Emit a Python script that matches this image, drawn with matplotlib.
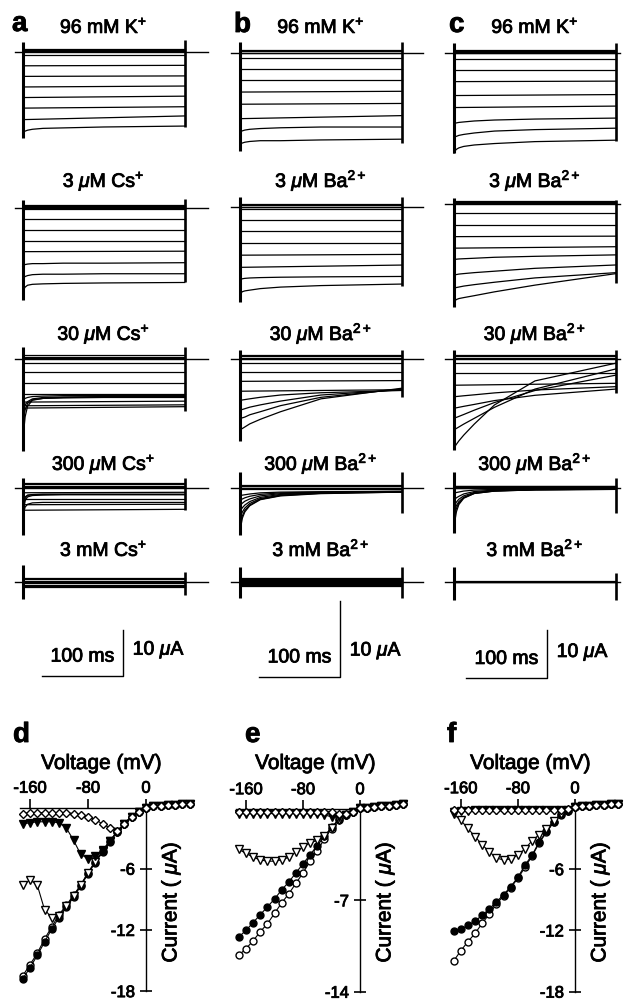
import matplotlib
matplotlib.use("Agg")
import matplotlib.pyplot as plt
import matplotlib.patheffects as pe

plt.rcParams['font.family'] = ['Liberation Sans', 'DejaVu Sans']
plt.rcParams['mathtext.fontset'] = 'custom'
plt.rcParams['mathtext.rm'] = 'Liberation Sans'
plt.rcParams['mathtext.it'] = 'Liberation Sans:italic'
plt.rcParams['mathtext.bf'] = 'Liberation Sans:bold'
plt.rcParams['axes.unicode_minus'] = False

W, H = 630, 1002
HEAVY = [pe.withStroke(linewidth=0.6, foreground='k')]

# ---------------- current traces (uA) ----------------
# 1 value = flat, 2 values = start/end of pulse, 9 values = sampled at T_FINE (ms)
PULSE_MS = 200
T_FINE = [0, 1, 3, 6, 12, 25, 50, 100, 200]

a1 = [[0.6], [0.35], [0.15], [-0.7], [-3.0, -2.9], [-5.3, -5.2], [-7.6, -7.4], [-9.9, -9.6],
      [-12.2, -11.9], [-14.7, -13.9],
      [-17.6, -17.4, -17.2, -17.0, -16.8, -16.6, -16.5, -16.3, -16.1]]
a2 = [[0.5], [0.3], [0.1], [-0.4], [-2.5], [-4.8], [-7.2], [-9.6, -9.5],
      [-12.8, -12.6, -12.4, -12.3, -12.2, -12.2, -12.1, -12.1, -12.0],
      [-15.6, -15.3, -15.0, -14.8, -14.6, -14.5, -14.5, -14.4, -14.4],
      [-18.6, -17.9, -17.3, -16.9, -16.7, -16.6, -16.5, -16.4, -16.3]]
a3 = [[0.9], [0.6], [0.3], [-0.7], [-2.8], [-5.2], [-7.5], [-9.3, -9.1], [-10.1, -9.9], [-10.6, -10.3],
      [-9.0, -8.8, -8.5, -8.3, -8.1, -8.0, -7.9, -7.9, -7.9],
      [-11.5, -10.8, -9.9, -9.2, -8.6, -8.3, -8.2, -8.1, -8.1],
      [-14.5, -13.0, -11.0, -9.6, -8.8, -8.5, -8.4, -8.3, -8.3],
      [-19.5, -16.0, -12.5, -10.2, -8.9, -8.5, -8.3, -8.2, -8.2]]
a4 = [[1.0], [0.7], [0.4], [0.1], [-1.1, -1.0], [-2.4], [-3.7, -3.6], [-4.9, -4.7],
      [-7.0, -5.5, -4.2, -3.6, -3.3, -3.2, -3.2, -3.2, -3.2],
      [-8.5, -5.0, -2.8, -2.0, -1.7, -1.6, -1.5, -1.5, -1.5],
      [-9.5, -4.5, -2.3, -1.7, -1.5, -1.4, -1.4, -1.4, -1.4],
      [-10.0, -4.0, -2.0, -1.6, -1.5, -1.5, -1.5, -1.5, -1.5]]
a5 = [[0.8], [0.6], [0.3], [-0.1], [-0.3], [-0.6], [-0.8], [-1.0]]

b1 = [[0.5], [0.3], [0.1], [-0.65], [-2.0], [-3.5], [-5.1, -5.0], [-6.7, -6.6], [-8.6, -8.2],
      [-10.4, -10.3, -10.2, -10.1, -10.0, -9.9, -9.8, -9.7, -9.7],
      [-12.0, -11.9, -11.8, -11.7, -11.6, -11.5, -11.5, -11.4, -11.3]]
b2 = [[0.45], [0.3], [0.1], [-0.25], [-1.7], [-3.1], [-4.7], [-6.3, -6.2], [-7.9, -7.6],
      [-9.7, -9.5, -9.4, -9.35, -9.3, -9.25, -9.2, -9.15, -9.1],
      [-11.6, -11.3, -11.1, -11.0, -10.9, -10.7, -10.5, -10.3, -10.1]]
b3 = [[0.6], [0.4], [0.2], [-0.45], [-1.7], [-2.9, -2.8], [-4.2, -4.0],
      [-5.4, -5.4, -5.35, -5.3, -5.2, -5.0, -4.7, -4.4, -4.1],
      [-6.7, -6.65, -6.6, -6.5, -6.3, -6.0, -5.5, -4.7, -4.0],
      [-7.8, -7.75, -7.7, -7.6, -7.3, -6.9, -6.1, -5.0, -3.9],
      [-9.3, -9.2, -9.1, -8.9, -8.5, -7.9, -6.9, -5.2, -3.8]]
b4 = [[0.4], [0.25], [0.1], [-0.1],
      [-1.0, -0.95, -0.9, -0.85, -0.75, -0.6, -0.5, -0.45, -0.4],
      [-1.6, -1.5, -1.4, -1.25, -1.05, -0.8, -0.6, -0.5, -0.4],
      [-2.3, -2.15, -1.95, -1.7, -1.4, -1.0, -0.7, -0.55, -0.45],
      [-3.1, -2.85, -2.55, -2.2, -1.75, -1.2, -0.8, -0.6, -0.45],
      [-4.0, -3.6, -3.1, -2.6, -2.0, -1.35, -0.9, -0.6, -0.45],
      [-5.0, -4.4, -3.6, -2.9, -2.2, -1.45, -0.95, -0.65, -0.5],
      [-6.0, -5.0, -3.9, -3.1, -2.3, -1.5, -1.0, -0.7, -0.5]]
b5 = [[0.5], [0.35], [0.2], [0.1], [0.0], [-0.1], [-0.2], [-0.3], [-0.4], [-0.5]]

c1 = [[0.7], [0.5], [0.3], [0.1], [-1.25], [-3.5], [-5.9, -5.8], [-8.8, -8.6], [-11.3, -11.0],
      [-14.7, -14.6, -14.5, -14.4, -14.3, -14.1, -13.9, -13.7, -13.5],
      [-17.5, -17.4, -17.3, -17.1, -16.9, -16.6, -16.2, -15.9, -15.6],
      [-20.8, -20.4, -20.0, -19.7, -19.4, -19.1, -18.8, -18.4, -18.1]]
c2 = [[0.6], [0.4], [0.2], [-1.9], [-4.4], [-6.8, -6.7], [-9.2, -8.9],
      [-11.6, -11.55, -11.5, -11.45, -11.4, -11.3, -11.1, -10.9, -10.6],
      [-14.8, -14.75, -14.7, -14.6, -14.5, -14.3, -14.0, -13.4, -12.7],
      [-17.6, -17.5, -17.4, -17.3, -17.1, -16.8, -16.3, -15.4, -14.3],
      [-20.6, -20.2, -19.9, -19.7, -19.5, -19.1, -18.3, -16.9, -14.5]]
c3 = [[0.9], [0.6], [0.3], [-0.7], [-2.8], [-5.4, -5.0],
      [-7.8, -7.78, -7.75, -7.7, -7.6, -7.4, -7.0, -6.4, -5.7],
      [-10.2, -10.15, -10.1, -10.0, -9.8, -9.4, -8.6, -7.5, -6.2],
      [-12.3, -12.2, -12.1, -11.9, -11.5, -10.6, -9.0, -6.5, -3.3],
      [-14.7, -14.6, -14.4, -14.1, -13.5, -12.3, -10.0, -6.2, -2.0],
      [-18.5, -18.2, -17.7, -17.0, -15.8, -13.5, -9.5, -4.5, -0.8]]
c4 = [[0.4], [0.25], [0.1], [-0.1],
      [-1.2, -1.1, -1.0, -0.9, -0.7, -0.5, -0.35, -0.3, -0.25],
      [-2.6, -2.4, -2.1, -1.8, -1.3, -0.8, -0.5, -0.35, -0.3],
      [-4.0, -3.6, -3.0, -2.4, -1.7, -1.0, -0.6, -0.4, -0.3],
      [-5.3, -4.6, -3.7, -2.9, -2.0, -1.1, -0.65, -0.4, -0.3],
      [-6.7, -5.6, -4.3, -3.2, -2.1, -1.2, -0.7, -0.45, -0.35],
      [-8.8, -7.0, -5.0, -3.5, -2.2, -1.2, -0.7, -0.45, -0.35]]
c5 = [[0.2], [0.0], [-0.15]]

# capacitive transients at pulse on / off: (top, bottom) in uA
caps_a = [((2.2, -18.8), (2.7, -16.3)), ((1.7, -20.1), (1.8, -16.3)), ((2.7, -19.9), (2.7, -11.2)),
          ((2.0, -10.3), (2.1, -4.9)), ((3.6, -3.7), (2.2, -2.8))]
caps_b = [((1.5, -12.8), (1.5, -11.8)), ((1.3, -12.4), (1.3, -10.4)), ((1.2, -10.8), (1.2, -4.9)),
          ((2.2, -6.1), (2.2, -3.3)), ((2.0, -2.2), (2.0, -2.2))]
caps_c = [((2.1, -20.8), (2.1, -18.3)), ((1.2, -21.4), (0.8, -16.5)), ((1.9, -18.8), (1.9, -7.1)),
          ((3.3, -9.5), (2.0, -5.3)), ((3.1, -3.8), (1.75, -3.8))]

titles_a = ['96 mM K$^{+}$', r'3 $\mu$M Cs$^{+}$', r'30 $\mu$M Cs$^{+}$', r'300 $\mu$M Cs$^{+}$', '3 mM Cs$^{+}$']
titles_b = ['96 mM K$^{+}$', r'3 $\mu$M Ba$^{2+}$', r'30 $\mu$M Ba$^{2+}$', r'300 $\mu$M Ba$^{2+}$', '3 mM Ba$^{2+}$']
titles_c = titles_b

SCALE_MS = 100
SCALE_UA = 10

# ---------------- I-V data ----------------
volts = [-170, -160, -150, -140, -130, -120, -110, -100, -90, -80, -70, -60,
         -50, -40, -30, -20, -10, 0, 10, 20, 30, 40, 50, 60]

d_ctrl = [-16.5, -15.4, -14.3, -12.9, -11.7, -10.5, -9.6, -8.6, -7.6, -6.4, -5.3, -4.3,
          -3.3, -2.4, -1.6, -0.9, -0.4, 0.0, 0.1, 0.15, 0.2, 0.25, 0.3, 0.35]
d_3u = [-16.8, -15.7, -14.5, -13.2, -11.9, -10.8, -9.8, -8.8, -7.7, -6.5, -5.4, -4.4,
        -3.4, -2.4, -1.6, -0.9, -0.4, 0.0, 0.1, 0.15, 0.2, 0.25, 0.3, 0.35]
d_30u = [-7.6, -7.1, -7.6, -10.0, -10.8, -10.6, -9.7, -8.7, -7.6, -6.4, -5.3, -4.3,
         -3.3, -2.4, -1.6, -0.9, -0.4, 0.0, 0.1, 0.15, 0.2, 0.25, 0.3, 0.35]
d_300u = [-1.6, -1.5, -1.4, -1.4, -1.4, -1.5, -2.0, -3.2, -4.6, -5.0, -4.8, -4.2,
          -3.3, -2.4, -1.6, -0.9, -0.4, 0.0, 0.1, 0.15, 0.2, 0.25, 0.3, 0.35]
d_3m = [-0.6, -0.5, -0.5, -0.5, -0.5, -0.5, -0.5, -0.6, -0.7, -0.9, -1.2, -1.6,
        -2.0, -2.3, -1.6, -0.9, -0.4, 0.0, 0.1, 0.15, 0.2, 0.25, 0.3, 0.35]

e_ctrl = [-11.2, -10.7, -10.1, -9.4, -8.8, -8.0, -7.2, -6.5, -5.7, -4.9, -4.0, -3.2,
          -2.3, -1.5, -0.85, -0.45, -0.2, 0.05, 0.1, 0.15, 0.2, 0.25, 0.3, 0.35]
e_3u = [-9.8, -9.3, -8.7, -8.1, -7.5, -6.9, -6.2, -5.6, -4.9, -4.2, -3.5, -2.8,
        -2.1, -1.4, -0.8, -0.45, -0.2, 0.05, 0.1, 0.15, 0.2, 0.25, 0.3, 0.35]
e_30u = [-3.1, -3.4, -3.7, -3.9, -4.0, -4.0, -3.9, -3.7, -3.3, -2.9, -2.6, -2.4,
         -2.1, -1.45, -0.85, -0.45, -0.2, 0.05, 0.1, 0.15, 0.2, 0.25, 0.3, 0.35]
e_300u = [-0.35, -0.35, -0.35, -0.35, -0.35, -0.35, -0.35, -0.35, -0.35, -0.35, -0.35, -0.4,
          -0.45, -0.6, -0.6, -0.45, -0.2, 0.05, 0.1, 0.15, 0.2, 0.25, 0.3, 0.35]
e_3m = [-0.25, -0.25, -0.25, -0.25, -0.25, -0.25, -0.25, -0.25, -0.25, -0.25, -0.25, -0.25,
        -0.25, -0.25, -0.35, -0.35, -0.2, 0.05, 0.1, 0.15, 0.2, 0.25, 0.3, 0.35]

f_ctrl = [-15.0, -14.0, -13.1, -12.3, -11.3, -10.4, -9.4, -8.6, -7.8, -6.9, -5.8, -4.7,
          -3.4, -2.4, -1.4, -0.65, -0.25, 0.05, 0.15, 0.2, 0.25, 0.3, 0.35, 0.4]
f_3u = [-12.1, -11.9, -11.5, -11.1, -10.5, -9.9, -9.2, -8.5, -7.7, -6.8, -5.6, -4.6,
        -3.3, -2.3, -1.35, -0.6, -0.25, 0.05, 0.15, 0.2, 0.25, 0.3, 0.35, 0.4]
f_30u = [-0.6, -1.2, -2.0, -2.8, -3.6, -4.3, -4.9, -5.1, -5.0, -4.6, -4.0, -3.2,
         -2.6, -2.1, -1.3, -0.6, -0.25, 0.05, 0.15, 0.2, 0.25, 0.3, 0.35, 0.4]
f_300u = [-0.35, -0.3, -0.25, -0.2, -0.2, -0.2, -0.2, -0.2, -0.2, -0.2, -0.2, -0.2,
          -0.2, -0.2, -0.2, -0.2, -0.15, 0.05, 0.15, 0.2, 0.25, 0.3, 0.35, 0.4]
f_3m = [-0.15, -0.15, -0.15, -0.15, -0.15, -0.15, -0.15, -0.15, -0.15, -0.15, -0.15, -0.15,
        -0.15, -0.15, -0.15, -0.15, -0.1, 0.05, 0.15, 0.2, 0.25, 0.3, 0.35, 0.4]

fig = plt.figure(figsize=(W / 100, H / 100), dpi=100)


def axes_px(ox, oy, sx, sy, xlim, ylim):
    # axes placed so that data (0,0) sits at pixel (ox, oy)
    left = ox + xlim[0] * sx
    right = ox + xlim[1] * sx
    top = oy - ylim[1] * sy
    bottom = oy - ylim[0] * sy
    ax = fig.add_axes([left / W, 1 - bottom / H, (right - left) / W, (bottom - top) / H])
    ax.set_xlim(xlim)
    ax.set_ylim(ylim)
    ax.patch.set_visible(False)
    return ax


def ftext(px, py, s, **kw):
    fig.text(px / W, 1 - py / H, s, path_effects=HEAVY, **kw)


def trace_xy(vals):
    if len(vals) == 1:
        return [0, PULSE_MS], [vals[0], vals[0]]
    if len(vals) == 2:
        return [0, PULSE_MS], vals
    return T_FINE, vals


columns = [
    dict(x0=22.7, upx=4.6, hold=[52, 207.5, 359.3, 487.7, 582], ext=(-9.5, 229),
         traces=[a1, a2, a3, a4, a5], caps=caps_a, titles=titles_a, letter='a', lx=12, ly=31,
         bar=(123.8, -20.4), ylim=(-24, 5)),
    dict(x0=240, upx=7.6, hold=[53.3, 207.3, 359.3, 488.3, 581.7], ext=(-11.5, 226),
         traces=[b1, b2, b3, b4, b5], caps=caps_b, titles=titles_b, letter='b', lx=234, ly=32,
         bar=(123.5, -12.5), ylim=(-15, 3)),
    dict(x0=454, upx=4.8, hold=[53.3, 204, 359.3, 487.7, 581.7], ext=(-11, 205),
         traces=[c1, c2, c3, c4, c5], caps=caps_c, titles=titles_c, letter='c', lx=449, ly=32,
         bar=(114.8, -20.1), ylim=(-24, 5)),
]
title_base = [33, 187, 340, 470, 556]
MS_PX = 0.81

for col in columns:
    for r in range(5):
        ax = axes_px(col['x0'], col['hold'][r], MS_PX, col['upx'], (-15, 235), col['ylim'])
        ax.axis('off')
        ax.plot(col['ext'], [0, 0], color='k', lw=1.0, clip_on=False)
        for tr in col['traces'][r]:
            t, v = trace_xy(tr)
            ax.plot(t, v, color='k', lw=0.9, clip_on=False)
        (s_top, s_bot), (e_top, e_bot) = col['caps'][r]
        ax.plot([0, 0], [s_top, s_bot], color='k', lw=2.2, clip_on=False, solid_capstyle='butt')
        ax.plot([PULSE_MS, PULSE_MS], [e_top, e_bot], color='k', lw=1.9, clip_on=False,
                solid_capstyle='butt')
        ftext(col['x0'] + 0.5 * PULSE_MS * MS_PX, title_base[r], col['titles'][r],
              ha='center', va='baseline', fontsize=14)
        if r == 4:
            bt, bb = col['bar']
            ax.plot([bt - SCALE_MS, bt, bt], [bb, bb, bb + SCALE_UA], color='k', lw=1.0,
                    clip_on=False)
            ax.annotate('100 ms', (bt, bb), xytext=(-6, 13.5), textcoords='offset points',
                        ha='right', va='center', fontsize=14, path_effects=HEAVY)
            ax.annotate(r'10 $\mu$A', (bt, bb), xytext=(7, 18.5), textcoords='offset points',
                        ha='left', va='center', fontsize=14, path_effects=HEAVY)
    ftext(col['lx'], col['ly'], col['letter'], fontsize=20, fontweight='bold', va='baseline')

# ---------------- I-V panels ----------------
iv_panels = [
    dict(o=(146, 807.5), sx=0.725, sy=10.2, series=[d_ctrl, d_3u, d_30u, d_300u, d_3m],
         yt=[-6, -12, -18], ylo=-18, letter='d', lx=13),
    dict(o=(360, 809), sx=0.7125, sy=13.05, series=[e_ctrl, e_3u, e_30u, e_300u, e_3m],
         yt=[-7, -14], ylo=-14, letter='e', lx=245),
    dict(o=(575, 808), sx=0.714, sy=10.2, series=[f_ctrl, f_3u, f_30u, f_300u, f_3m],
         yt=[-6, -12, -18], ylo=-18, letter='f', lx=447),
]
styles = [
    dict(marker='o', ms=5.0, mfc='white'),
    dict(marker='o', ms=5.0, mfc='k'),
    dict(marker='v', ms=5.2, mfc='white'),
    dict(marker='v', ms=5.2, mfc='k'),
    dict(marker='D', ms=3.6, mfc='white'),
]

for p in iv_panels:
    ox, oy = p['o']
    ax = axes_px(ox, oy, p['sx'], p['sy'], (-190, 80), (p['ylo'] - 0.6, 6))
    for vals, st in zip(p['series'], styles):
        ax.plot(volts, vals, color='k', lw=0.8, mec='k', mew=1.0, clip_on=False, zorder=3, **st)
    for side in ['right', 'bottom']:
        ax.spines[side].set_visible(False)
    ax.spines['top'].set_position(('data', 0))
    ax.spines['left'].set_position(('data', 0))
    ax.spines['top'].set_bounds(-174, 0)
    ax.spines['left'].set_bounds(p['ylo'], 0)
    ax.spines['top'].set_linewidth(1.0)
    ax.spines['left'].set_linewidth(1.0)
    ax.xaxis.set_ticks_position('top')
    ax.set_xticks([-160, -80, 0])
    ax.tick_params(axis='x', direction='out', length=6.5, width=1.2, pad=2, labelsize=12,
                   labeltop=True, labelbottom=False)
    ax.set_yticks(p['yt'])
    ax.tick_params(axis='y', direction='inout', length=8, width=1.2, pad=4, labelsize=12)
    for lab in ax.get_xticklabels() + ax.get_yticklabels():
        lab.set_path_effects(HEAVY)
    ftext(ox - 44.5, 769, 'Voltage (mV)', ha='center', va='baseline', fontsize=15)
    ftext(ox + 25, 902, r'Current ( $\mu$A)', ha='center', va='center', rotation=90, fontsize=15)
    ftext(p['lx'], 742, p['letter'], fontsize=20, fontweight='bold', va='baseline')

fig.savefig('out.png', dpi=100)
